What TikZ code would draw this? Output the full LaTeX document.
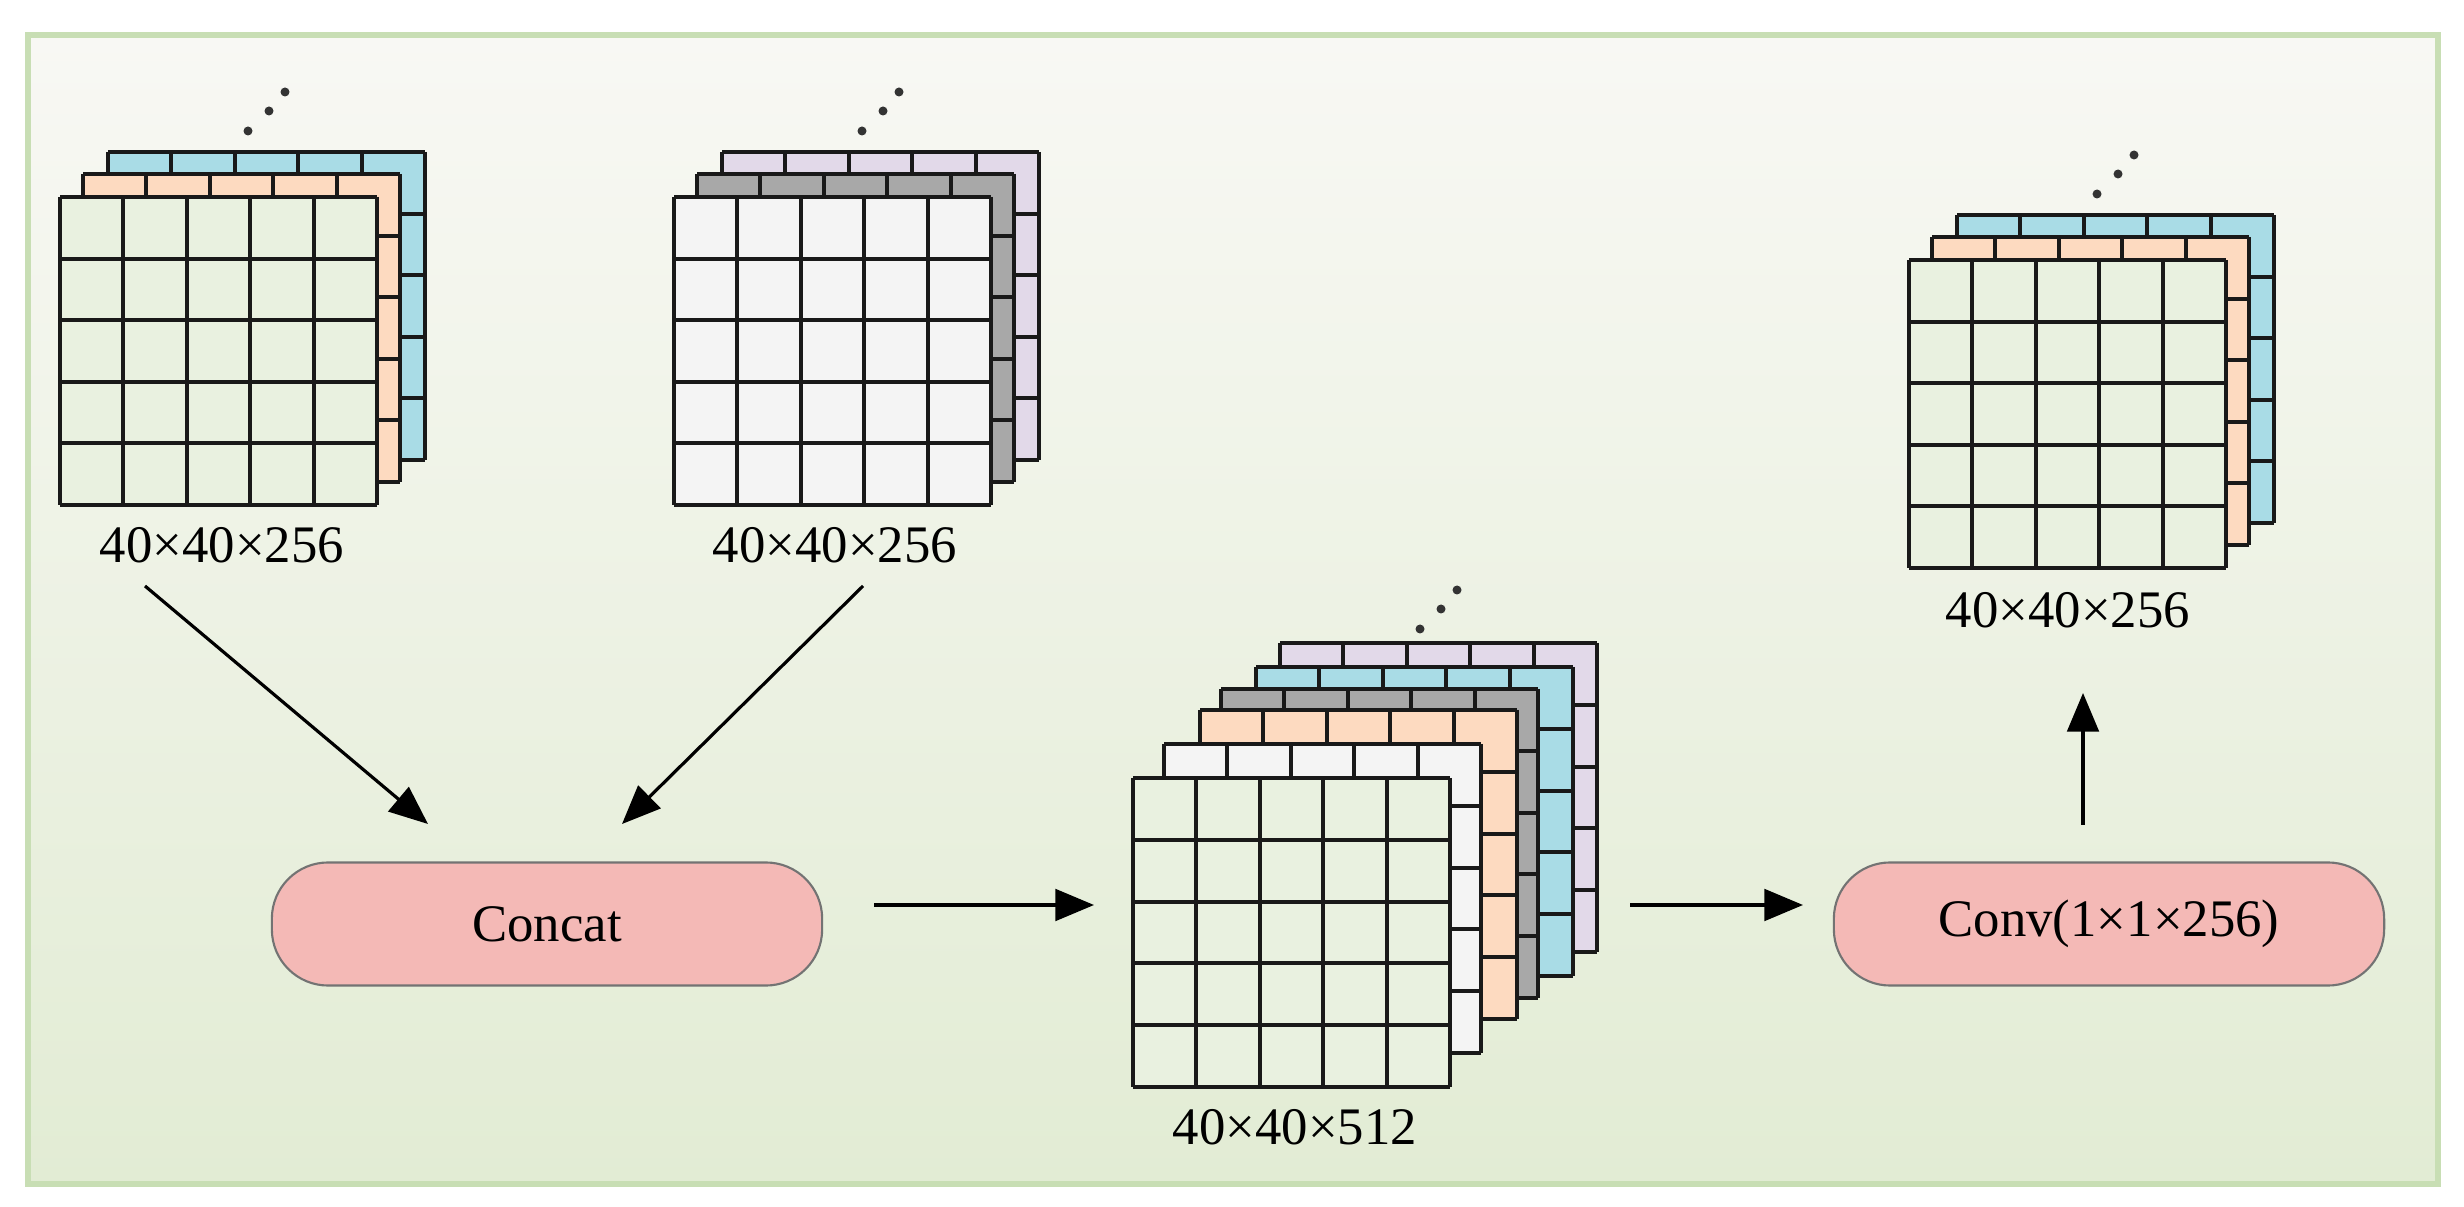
\documentclass[tikz,border=0pt]{standalone}
\usepackage{fontspec}
\setmainfont{Liberation Serif}
\usetikzlibrary{arrows.meta}
\definecolor{cgreen}{HTML}{E9F1E0}
\definecolor{corange}{HTML}{FDDAC0}
\definecolor{cblue}{HTML}{A9DCE6}
\definecolor{cgray}{HTML}{A8A8A8}
\definecolor{cpurple}{HTML}{E2D9E9}
\definecolor{cwhite}{HTML}{F4F4F4}
\definecolor{cpink}{HTML}{F4B9B6}
\definecolor{bgtop}{HTML}{F8F8F4}
\definecolor{bgbot}{HTML}{E2ECD4}
\definecolor{frame}{HTML}{C8DEB4}
\newcommand{\fmap}[5]{%
  \fill[#5] (#1,#2) rectangle ++(#3,#4);
  \foreach \i in {0,...,5}{
    \draw[gl] (#1+\i*#3/5,#2) -- ++(0,#4);
    \draw[gl] (#1,#2+\i*#4/5) -- ++(#3,0);}
}
\newcommand{\fdots}[2]{%
  \fill[black!80] (#1,#2) circle (4.5) (#1-16,#2+19) circle (4.5) (#1-37,#2+39) circle (4.5);}
\begin{document}
\begin{tikzpicture}[x=0.01cm,y=-0.01cm,
  gl/.style={line width=1.1pt,black!90},
  lbl/.style={font=\fontsize{15}{18}\selectfont},
  box/.style={draw=black!55,line width=0.6pt,fill=cpink,rounded corners=16pt,
    minimum width=5.5cm,minimum height=1.23cm,font=\fontsize{15}{18}\selectfont},
  arr/.style={line width=0.9pt,-{Triangle[length=11pt,width=9pt]}}]
\useasboundingbox (0,0) rectangle (2464,1207);
\fill[white] (0,0) rectangle (2464,1207);
\shade[top color=bgtop,bottom color=bgbot] (28,35) rectangle (2438,1184);
\draw[frame,line width=1.5pt] (28,35) rectangle (2438,1184);
% stack 1
\fdots{285}{92}
\fmap{108}{152}{317}{308}{cblue}
\fmap{83}{174}{317}{308}{corange}
\fmap{60}{197}{317}{308}{cgreen}
\node[lbl] (l1) at (222,545) {40×40×256};
% stack 2
\fdots{899}{92}
\fmap{722}{152}{317}{308}{cpurple}
\fmap{697}{174}{317}{308}{cgray}
\fmap{674}{197}{317}{308}{cwhite}
\node[lbl] (l2) at (835,545) {40×40×256};
% stack 3
\fdots{2134}{155}
\fmap{1957}{215}{317}{308}{cblue}
\fmap{1932}{237}{317}{308}{corange}
\fmap{1909}{260}{317}{308}{cgreen}
\node[lbl] (l3) at (2068,610) {40×40×256};
% middle stack
\fdots{1457}{590}
\fmap{1280}{643}{317}{309}{cpurple}
\fmap{1256}{667}{317}{309}{cblue}
\fmap{1221}{689}{317}{309}{cgray}
\fmap{1200}{710}{317}{309}{corange}
\fmap{1164}{744}{317}{309}{cwhite}
\fmap{1133}{778}{317}{309}{cgreen}
\node[lbl] (l4) at (1295,1127) {40×40×512};
% boxes
\node[box] (concat) at (547,924) {Concat};
\node[box] (conv) at (2109,924) {Conv(1×1×256)};
% arrows
\coordinate (a1s) at (145,586); \coordinate (a1e) at (428,824);
\coordinate (a2s) at (863,586); \coordinate (a2e) at (622,824);
\coordinate (a3s) at (874,905); \coordinate (a3e) at (1094,905);
\coordinate (a4s) at (1630,905); \coordinate (a4e) at (1803,905);
\coordinate (a5s) at (2083,825); \coordinate (a5e) at (2083,693);
\draw[arr] (a1s) -- (a1e);
\draw[arr] (a2s) -- (a2e);
\draw[arr] (a3s) -- (a3e);
\draw[arr] (a4s) -- (a4e);
\draw[arr] (a5s) -- (a5e);
\end{tikzpicture}
\end{document}
